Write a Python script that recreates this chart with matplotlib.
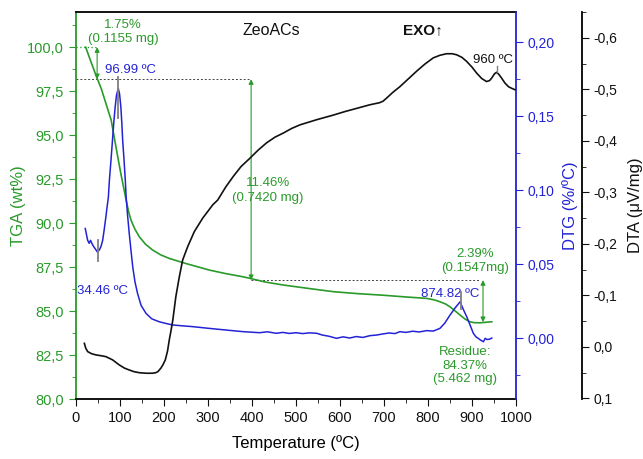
import matplotlib
matplotlib.use("Agg")
import matplotlib.pyplot as plt
from matplotlib.ticker import MultipleLocator, FuncFormatter

plt.rcParams['font.family'] = ['Liberation Sans', 'DejaVu Sans']

GREEN = '#2a9a2a'
BLUE = '#2323d6'
BLACK = '#111111'
GRAY = '#808080'

# ---------------- data ----------------
tga_T = [22, 35, 47, 58, 68, 80, 91, 102, 114, 120, 125, 134, 144, 158, 174, 192, 212,
         250, 303, 340, 379, 395, 430, 471, 530, 585, 640, 698, 750, 797, 815, 827,
         840, 850, 862, 873, 884, 895, 905, 918, 930, 945]
tga_v = [100.0, 99.1, 98.3, 97.6, 96.8, 95.85, 94.3, 92.8, 91.3, 90.6, 90.17, 89.65,
         89.22, 88.8, 88.47, 88.2, 87.99, 87.7, 87.33, 87.13, 86.95, 86.86, 86.65,
         86.48, 86.28, 86.1, 85.99, 85.9, 85.8, 85.72, 85.63, 85.53, 85.4, 85.24,
         85.0, 84.77, 84.55, 84.39, 84.34, 84.33, 84.36, 84.39]

dtg_T = [21, 26.5, 30, 33, 38, 42, 45.5, 49, 53, 57, 60.6, 64, 68, 70, 73.5, 76, 80,
         83, 86, 89, 92, 96, 99, 102, 104, 106, 109, 112, 114, 117.5, 121, 125, 129,
         134, 140, 148, 159, 172, 189, 205, 220, 240, 265, 300, 341, 380, 417, 435,
         455, 470, 485, 500, 515, 530, 547, 560, 575, 592, 607, 622, 637, 652, 668,
         683, 698, 712, 725, 736, 750, 765, 780, 797, 812, 827, 838, 850, 862, 873,
         880, 888, 896, 903, 909, 914, 920, 926, 930, 934, 940, 945]
dtg_v = [0.074, 0.066, 0.064, 0.066, 0.0628, 0.061, 0.0595, 0.058, 0.0595, 0.062,
         0.066, 0.073, 0.082, 0.087, 0.095, 0.107, 0.122, 0.134, 0.146, 0.156, 0.164,
         0.1687, 0.165, 0.156, 0.146, 0.134, 0.121, 0.107, 0.095, 0.082, 0.0707,
         0.059, 0.048, 0.038, 0.030, 0.022, 0.0167, 0.013, 0.011, 0.0098, 0.0088,
         0.0083, 0.0077, 0.0066, 0.0054, 0.0043, 0.0036, 0.0042, 0.0032, 0.0038,
         0.0031, 0.0036, 0.0030, 0.0035, 0.0032, 0.0020, 0.0012, -0.0002, 0.0008,
         0.0000, 0.0010, 0.0004, 0.0016, 0.0020, 0.0028, 0.0034, 0.0030, 0.0043,
         0.0038, 0.0046, 0.0041, 0.0050, 0.0047, 0.0065, 0.0100, 0.0155, 0.0205,
         0.0245, 0.0195, 0.0144, 0.0085, 0.0032, 0.0008, -0.0002, -0.0015, -0.0025,
         -0.0002, -0.0010, -0.0008, 0.0000]

dta_T = [19, 22, 26.5, 35, 45.5, 57, 68, 83, 98.5, 110, 121, 132, 144, 160, 174, 181,
         186, 193, 198, 203, 208, 212, 216, 220, 227, 235, 242.5, 254, 269, 288, 311,
         322, 340, 357.5, 375, 395, 414, 433, 452, 471, 490, 509, 547, 585, 612, 638,
         668, 690, 698, 706, 720, 736, 755, 774, 793, 812, 827, 842, 855, 865, 877,
         888, 900, 911, 922, 933, 940, 945, 951, 956, 961, 967, 975, 983, 990, 998]
dta_v = [-0.007, 0.002, 0.009, 0.013, 0.0155, 0.017, 0.0188, 0.025, 0.035, 0.041,
         0.0447, 0.048, 0.050, 0.051, 0.051, 0.050, 0.048, 0.041, 0.034, 0.025, 0.008,
         -0.0136, -0.032, -0.052, -0.098, -0.137, -0.169, -0.195, -0.224, -0.250,
         -0.276, -0.285, -0.310, -0.331, -0.350, -0.366, -0.382, -0.396, -0.407,
         -0.415, -0.424, -0.431, -0.441, -0.450, -0.457, -0.463, -0.470, -0.474,
         -0.477, -0.483, -0.494, -0.505, -0.520, -0.535, -0.549, -0.561, -0.566,
         -0.569, -0.569, -0.567, -0.562, -0.554, -0.543, -0.531, -0.521, -0.515,
         -0.517, -0.522, -0.530, -0.533, -0.529, -0.522, -0.512, -0.505, -0.502,
         -0.499]

# mass-loss step levels (wt%) and labels
step_levels = [100.0, 98.18, 86.76, 84.37]
step_labels = ["1.75%\n(0.1155 mg)", "11.46%\n(0.7420 mg)", "2.39%\n(0.1547mg)"]
residue_label = "Residue:\n84.37%\n(5.462 mg)"
dtg_peaks = ["34.46 ºC", "96.99 ºC", "874.82 ºC"]
dta_peak = "960 ºC"

x_ticks = list(range(0, 1001, 100))
tga_ticks = [80.0, 82.5, 85.0, 87.5, 90.0, 92.5, 95.0, 97.5, 100.0]
dtg_ticks = [0.00, 0.05, 0.10, 0.15, 0.20]
dta_ticks = [-0.6, -0.5, -0.4, -0.3, -0.2, -0.1, 0.0, 0.1]

# ---------------- figure ----------------
fig = plt.figure(figsize=(6.43, 4.59), dpi=100)
L, B = 76 / 643, 1 - 399 / 459
W, H = 440 / 643, 387 / 459
ax = fig.add_axes([L, B, W, H])
ax2 = ax.twinx()
ax3 = ax.twinx()

comma1 = FuncFormatter(lambda v, p: (f"{v:.1f}").replace('.', ',').replace('-0,0', '0,0'))
comma2 = FuncFormatter(lambda v, p: (f"{v:.2f}").replace('.', ',').replace('-0,00', '0,00'))

# TGA axis
ax.plot(tga_T, tga_v, color=GREEN, lw=1.2, zorder=3)
ax.set_xlim(0, 1000)
ax.set_ylim(80, 102)
ax.set_xticks(x_ticks)
ax.xaxis.set_minor_locator(MultipleLocator(50))
ax.set_yticks(tga_ticks)
ax.yaxis.set_minor_locator(MultipleLocator(1.25))
ax.yaxis.set_major_formatter(comma1)
ax.tick_params(axis='x', which='both', direction='out', colors=BLACK, labelsize=10.5)
ax.tick_params(axis='x', which='major', length=5)
ax.tick_params(axis='x', which='minor', length=3)
ax.tick_params(axis='y', which='both', direction='out', colors=GREEN, labelsize=10.5)
ax.tick_params(axis='y', which='major', length=5)
ax.tick_params(axis='y', which='minor', length=3)
ax.spines['left'].set_color(GREEN)
ax.spines['left'].set_linewidth(1.3)
ax.spines['bottom'].set_linewidth(1.3)
ax.spines['top'].set_linewidth(1.3)
ax.spines['right'].set_visible(False)
ax.set_xlabel("Temperature (ºC)", fontsize=12)
ax.xaxis.set_label_coords(0.5, -0.092)
ax.set_ylabel("TGA (wt%)", color=GREEN, fontsize=12)
ax.yaxis.set_label_coords(-0.113, 0.5)

# DTG axis
ax2.plot(dtg_T, dtg_v, color=BLUE, lw=1.1, zorder=3)
ax2.set_ylim(-0.0412, 0.2203)
ax2.set_yticks(dtg_ticks)
ax2.yaxis.set_minor_locator(MultipleLocator(0.025))
ax2.yaxis.set_major_formatter(comma2)
ax2.tick_params(axis='y', which='both', direction='out', colors=BLUE, labelsize=10)
ax2.tick_params(axis='y', which='major', length=5)
ax2.tick_params(axis='y', which='minor', length=3)
for s in ['left', 'top', 'bottom']:
    ax2.spines[s].set_visible(False)
ax2.spines['right'].set_color(BLUE)
ax2.spines['right'].set_linewidth(1.3)
ax2.set_ylabel("DTG (%/ºC)", color=BLUE, fontsize=12)
ax2.yaxis.set_label_coords(1.1045, 0.5)

# DTA axis
ax3.plot(dta_T, dta_v, color=BLACK, lw=1.2, zorder=3)
ax3.set_ylim(0.101, -0.650)
ax3.spines['right'].set_position(('axes', 1.15))
ax3.set_yticks(dta_ticks)
ax3.yaxis.set_minor_locator(MultipleLocator(0.05))
ax3.yaxis.set_major_formatter(comma1)
ax3.tick_params(axis='y', which='both', direction='out', colors=BLACK, labelsize=10)
ax3.tick_params(axis='y', which='major', length=5)
ax3.tick_params(axis='y', which='minor', length=3)
for s in ['left', 'top', 'bottom']:
    ax3.spines[s].set_visible(False)
ax3.spines['right'].set_linewidth(1.3)
ax3.set_ylabel("DTA (μV/mg)", color=BLACK, fontsize=12)
ax3.yaxis.set_label_coords(1.2545, 0.5)

# ---------------- annotations ----------------
arrow_kw = dict(arrowstyle='<|-|>', color=GREEN, lw=0.8, mutation_scale=7,
                shrinkA=0, shrinkB=0)
# step 1
ax.plot([0, 48], [step_levels[0], step_levels[0]], color=GREEN, lw=0.9, ls=(0, (1, 2)))
ax.plot([0, 398], [step_levels[1], step_levels[1]], color='#444444', lw=0.7, ls=(0, (2, 2)))
ax.annotate('', xy=(48, step_levels[1]), xytext=(48, step_levels[0]), arrowprops=arrow_kw)
ax.text(107, 100.85, step_labels[0], color=GREEN, fontsize=9.5, ha='center', va='center',
        linespacing=1.25)
# step 2
ax.plot([398, 918], [step_levels[2], step_levels[2]], color='#444444', lw=0.7, ls=(0, (2, 2)))
ax.annotate('', xy=(398, step_levels[2]), xytext=(398, step_levels[1]), arrowprops=arrow_kw)
ax.text(436, 91.85, step_labels[1], color=GREEN, fontsize=9.5, ha='center', va='center',
        linespacing=1.25)
# step 3
ax.annotate('', xy=(925, step_levels[3]), xytext=(925, step_levels[2]), arrowprops=arrow_kw)
ax.text(907, 87.85, step_labels[2], color=GREEN, fontsize=9.5, ha='center', va='center',
        linespacing=1.25)
ax.text(884, 81.9, residue_label, color=GREEN, fontsize=9.5, ha='center', va='center',
        linespacing=1.2)

# DTG peak markers
ax2.plot([49, 49], [0.052, 0.066], color=GRAY, lw=1.3, zorder=4)
ax2.text(61, 0.0318, dtg_peaks[0], color=BLUE, fontsize=9.5, ha='center', va='center')
ax2.plot([96, 96], [0.149, 0.1764], color=GRAY, lw=1.3, zorder=4)
ax2.text(124, 0.181, dtg_peaks[1], color=BLUE, fontsize=9.5, ha='center', va='center')
ax2.plot([875, 875], [0.0196, 0.031], color=GRAY, lw=1.3, zorder=4)
ax2.text(850, 0.0300, dtg_peaks[2], color=BLUE, fontsize=9.5, ha='center', va='center')

# DTA peak marker
ax3.plot([957, 957], [-0.534, -0.546], color=GRAY, lw=1.0, zorder=4)
ax3.text(948, -0.557, dta_peak, color=BLACK, fontsize=9.5, ha='center', va='center')

ax.text(0.443, 0.953, "ZeoACs", transform=ax.transAxes, fontsize=11.5, ha='center',
        va='center', color=BLACK)
ax.text(0.789, 0.953, "EXO↑", transform=ax.transAxes, fontsize=11, fontweight='bold',
        ha='center', va='center', color=BLACK)

fig.savefig("out.png", dpi=100)
